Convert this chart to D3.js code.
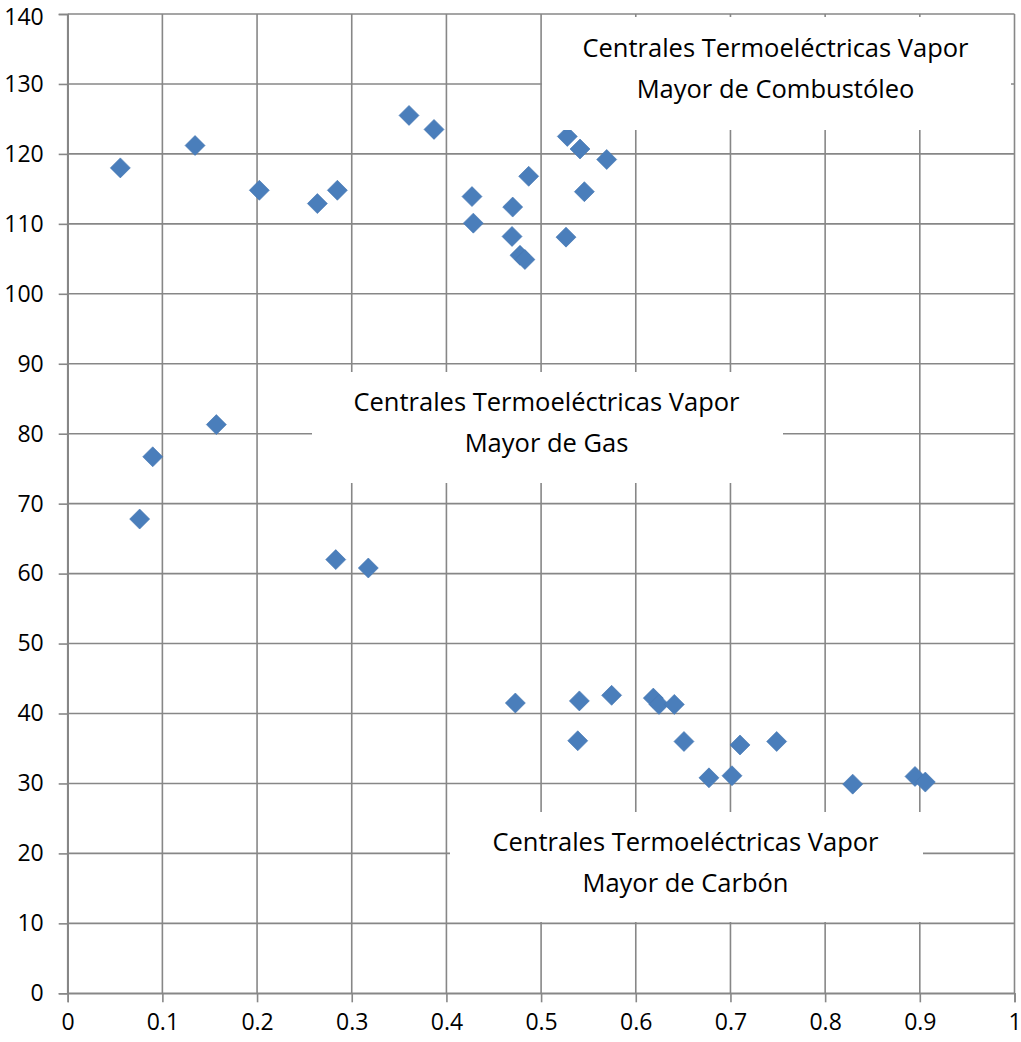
<!DOCTYPE html>
<html>
<head>
<meta charset="utf-8">
<script src="https://cdn.jsdelivr.net/npm/d3@7"></script>
<style>
  html, body { margin: 0; padding: 0; background: #fff; }
  svg { display: block; }
  text { font-family: "Open Sans", "Noto Sans", sans-serif; fill: #000; }
</style>
</head>
<body>
<svg id="chart" width="1021" height="1042"></svg>
<script>
// ---- Data ----
const combX = [0.0556, 0.1345, 0.2024, 0.2637, 0.2848, 0.3605, 0.3869, 0.4270, 0.4284, 0.4700, 0.4693, 0.4777, 0.4829, 0.4869, 0.5263, 0.5277, 0.5411, 0.5457, 0.5693];
const combY = [118.0, 121.2, 114.8, 112.9, 114.8, 125.5, 123.5, 113.9, 110.1, 112.4, 108.2, 105.5, 104.9, 116.8, 108.1, 122.5, 120.7, 114.6, 119.2];

const gasX = [0.0898, 0.0760, 0.1570, 0.2831, 0.3175];
const gasY = [76.7, 67.8, 81.3, 62.0, 60.8];

const carbX = [0.4728, 0.5404, 0.5745, 0.6185, 0.6245, 0.6407, 0.5387, 0.6509, 0.7101, 0.7488, 0.6773, 0.7016, 0.8291, 0.8949, 0.9058];
const carbY = [41.5, 41.8, 42.6, 42.2, 41.3, 41.3, 36.1, 36.0, 35.5, 36.0, 30.8, 31.1, 29.9, 31.0, 30.2];

const xTicks = [0, 0.1, 0.2, 0.3, 0.4, 0.5, 0.6, 0.7, 0.8, 0.9, 1];
const yTicks = [0, 10, 20, 30, 40, 50, 60, 70, 80, 90, 100, 110, 120, 130, 140];

const labelLines = [
  ["Centrales Termoeléctricas Vapor", "Mayor de Combustóleo"],
  ["Centrales Termoeléctricas Vapor", "Mayor de Gas"],
  ["Centrales Termoeléctricas Vapor", "Mayor de Carbón"]
];

// ---- Layout ----
const plot = { left: 67.7, right: 1014.5, top: 14, bottom: 993.3 };
const boxes = [
  { x0: 542, x1: 1011, y0: 17, y1: 130 },
  { x0: 312, x1: 783, y0: 372, y1: 483 },
  { x0: 450, x1: 923, y0: 812, y1: 922 }
];
const gridColor = "#878787";
const markerColor = "#4a7ebb";

const svg = d3.select("#chart");

const x = d3.scaleLinear().domain([0, 1]).range([plot.left, plot.right]);
const y = d3.scaleLinear().domain([0, 140]).range([plot.bottom, plot.top]);

// gridlines
const grid = svg.append("g");
grid.selectAll("line.h").data(yTicks).join("line")
  .attr("x1", plot.left).attr("x2", plot.right)
  .attr("y1", d => y(d)).attr("y2", d => y(d))
  .attr("stroke", gridColor).attr("stroke-width", 1.6);
grid.selectAll("line.v").data(xTicks).join("line")
  .attr("x1", d => x(d)).attr("x2", d => x(d))
  .attr("y1", plot.top).attr("y2", plot.bottom)
  .attr("stroke", gridColor).attr("stroke-width", 1.6);

// axes
const xAxis = d3.axisBottom(x).tickValues(xTicks).tickSize(9).tickPadding(18)
  .tickFormat(d => d3.format("")(+d.toFixed(1)));
const yAxis = d3.axisLeft(y).tickValues(yTicks).tickSize(9).tickPadding(15)
  .tickFormat(d3.format("d"));

const gx = svg.append("g").attr("transform", `translate(0,${plot.bottom})`).call(xAxis);
const gy = svg.append("g").attr("transform", `translate(${plot.left},0)`).call(yAxis);
[gx, gy].forEach(g => {
  g.select(".domain").attr("stroke", gridColor).attr("stroke-width", 1.6);
  g.selectAll(".tick line").attr("stroke", gridColor).attr("stroke-width", 1.6);
  g.selectAll(".tick text").attr("font-size", 23).attr("fill", "#000")
    .style("font-family", '"Open Sans", "Noto Sans", sans-serif');
});
gx.selectAll(".tick text").attr("dy", "0.71em").attr("y", 9 + 11);
// keep the topmost y label inside the picture
gy.selectAll(".tick text").filter(d => d === d3.max(yTicks)).attr("y", 3.5);

// markers
const pts = [];
combX.forEach((v, i) => pts.push([v, combY[i]]));
gasX.forEach((v, i) => pts.push([v, gasY[i]]));
carbX.forEach((v, i) => pts.push([v, carbY[i]]));

const sym = d3.symbol().type(d3.symbolSquare).size(200);
svg.append("g").selectAll("path").data(pts).join("path")
  .attr("d", sym)
  .attr("transform", d => `translate(${x(d[0])},${y(d[1])}) rotate(45)`)
  .attr("fill", markerColor)
  .attr("stroke", "#4576b2")
  .attr("stroke-width", 0.6);

// label boxes
const lg = svg.append("g");
boxes.forEach((b, i) => {
  lg.append("rect")
    .attr("x", b.x0).attr("y", b.y0)
    .attr("width", b.x1 - b.x0).attr("height", b.y1 - b.y0)
    .attr("fill", "#fff");
  const cx = (b.x0 + b.x1) / 2 - 1;
  const cy = (b.y0 + b.y1) / 2 - 5;
  const t = lg.append("text")
    .attr("text-anchor", "middle")
    .attr("font-size", 25.5);
  labelLines[i].forEach((line, j) => {
    t.append("tspan")
      .attr("x", cx)
      .attr("y", cy + (j - 0.5) * 41)
      .attr("dy", "0.36em")
      .text(line);
  });
});
</script>
</body>
</html>
